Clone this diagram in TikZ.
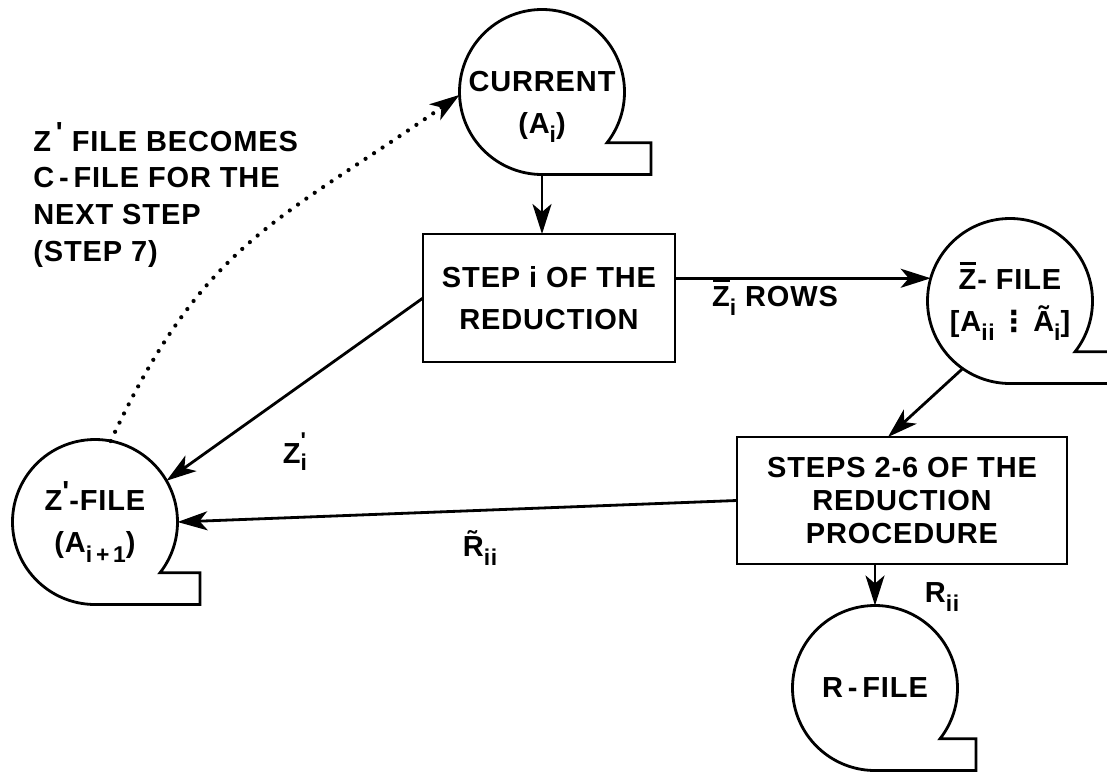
\documentclass[tikz,border=0pt]{standalone}
\usepackage{fontspec}
\setmainfont{Liberation Sans}[LetterSpace=3]
\newfontfamily\symfont{DejaVu Sans}
\usepackage{tikz}
\usetikzlibrary{arrows.meta,positioning,calc}

% lowered index, raised tick, bar over a letter
\newcommand{\lowsub}[1]{\raisebox{-0.6ex}{\fontsize{13}{13}\selectfont #1}}
\newcommand{\primetick}{\raisebox{0.3em}{\textquotesingle}}
\newcommand{\tickover}[1]{\raisebox{-4pt}{\fontsize{13}{13}\selectfont\shortstack[l]{\textquotesingle\\#1}}}
\newcommand{\barZ}{\makebox[0pt][l]{\hspace{0.5pt}\rule[14pt]{9.4pt}{1.7pt}}Z}
% outline of a tape reel with its tail
\newcommand{\tapeoutline}[2]{\draw (#1.-38) arc[start angle=-38,end angle=270,radius=1.65cm]
  -- ++(#2,0) |- (#1.-38) -- cycle;}

\begin{document}
\begin{tikzpicture}[line width=1.6pt,
  font=\fontsize{16.5}{24}\selectfont\bfseries,
  tapefile/.style={circle,minimum size=3.3cm,inner sep=0pt,outer sep=0pt},
  tapetext/.style={align=center,inner sep=0pt},
  stepbox/.style={draw,rectangle,inner sep=0pt,outer sep=0pt,align=center},
  flow/.style={-{Stealth[length=0.6cm,width=0.38cm,inset=0.16cm]}},
  dotline/.style={line width=2.4pt,dash pattern=on 0pt off 5.8pt,line cap=round,
    -{Stealth[length=0.6cm,width=0.38cm,inset=0.16cm]}}]
\clip (0,0) rectangle (22.14,15.52);

% tapes
\node[tapefile] (cur) at (10.84,13.68) {};
\node[tapefile] (zbar) at (20.2,9.5) {};
\node[tapefile] (zprime) at (1.9,5.08) {};
\node[tapefile] (rfile) at (17.5,1.76) {};
\tapeoutline{cur}{2.18}
\tapeoutline{zbar}{2.18}
\tapeoutline{zprime}{2.1}
\tapeoutline{rfile}{2.02}
\node[tapetext] (curtext) at ([yshift=-0.3cm]cur.center) {CURRENT\\(A\lowsub{i})};
\node[tapetext] (zbartext) at (zbar.center)
  {\barZ- FILE\\{[}A\lowsub{ii}\,{\symfont ⋮}\,Ã\lowsub{i}{]}};
\node[tapetext] (zprimetext) at (zprime.center) {Z\primetick-FILE\\(A\lowsub{i\,+\,1})};
\node[tapetext] (rfiletext) at (rfile.center) {R\,-\,FILE};

% processing steps
\node[stepbox,minimum width=5.04cm,minimum height=2.56cm] (step) at (10.98,9.56)
  {STEP i OF THE\\REDUCTION};
\node[stepbox,minimum width=6.6cm,minimum height=2.54cm,
  font=\fontsize{16.5}{19}\selectfont\bfseries] (redproc) at (18.04,5.51)
  {STEPS 2-6 OF THE\\REDUCTION\\PROCEDURE};

\node[anchor=north west,inner sep=0pt,align=left,
  font=\fontsize{16.5}{21}\selectfont\bfseries] (note) at (0.64,13.1)
  {Z\,\primetick\ FILE BECOMES\\C\,-\,FILE FOR THE\\NEXT STEP\\(STEP 7)};

% data flow
\draw[flow] (cur.south) -- (cur.south |- step.north);
\draw[flow] (step.east |- zbar.164) -- (zbar.164);
\draw[flow] (zbar.235) -- ([xshift=-0.28cm]redproc.north);
\draw[flow] (redproc.south -| rfile.north) -- (rfile.north);
\draw[flow] (redproc.west) -- (zprime.east);
\draw[flow] (step.west) -- (zprime.30);
\draw[dotline] (zprime.79) to[out=65,in=215,looseness=1.15] (cur.182);

% flow labels
\node (zrows) at (15.5,9.58) {\barZ\lowsub{i} ROWS};
\node (zilab) at (5.9,6.48) {Z\tickover{i}};
\node (rtilde) at (9.6,4.56) {R̃\lowsub{ii}};
\node (rii) at (18.84,3.58) {R\lowsub{ii}};
\end{tikzpicture}
\end{document}
